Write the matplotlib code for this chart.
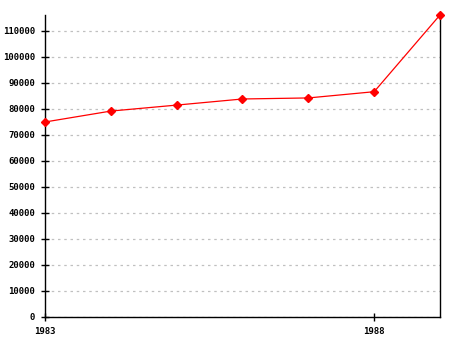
import matplotlib
matplotlib.use("Agg")
import matplotlib.pyplot as plt

# data
years = [1983, 1984, 1985, 1986, 1987, 1988, 1989]
values = [75000, 79200, 81500, 83850, 84250, 86650, 116150]
y_ticks = list(range(0, 110001, 10000))
x_ticks = [1983, 1988]

fig = plt.figure(figsize=(4.55, 3.40), dpi=100)
ax = fig.add_axes([45 / 455, 23 / 340, 395 / 455, 302 / 340])

ax.plot(years, values, color="#ff0000", linewidth=0.9, marker="D",
        markersize=4.5, markerfacecolor="#ff0000", markeredgecolor="#ff0000",
        zorder=3, clip_on=False)

ax.set_xlim(years[0], years[-1])
ax.set_ylim(0, max(values))
ax.set_xticks(x_ticks)
ax.set_yticks(y_ticks)
ax.set_xticklabels([str(x) for x in x_ticks])
ax.set_yticklabels([str(y) for y in y_ticks])

# dashed horizontal grid
ax.yaxis.grid(True, color="#c0c0c0", linestyle=(0, (2, 3)), linewidth=0.9)
ax.set_axisbelow(True)

ax.spines["top"].set_visible(False)
for side in ("left", "bottom", "right"):
    ax.spines[side].set_linewidth(1.0)
    ax.spines[side].set_color("black")

ax.tick_params(axis="both", direction="inout", length=6, width=1.0,
               labelsize=6.5)
ax.tick_params(axis="y", pad=4)
ax.tick_params(axis="x", pad=4)
for lbl in ax.get_xticklabels() + ax.get_yticklabels():
    lbl.set_family("DejaVu Sans Mono")
    lbl.set_fontweight("bold")

fig.savefig("out.png", dpi=100)
